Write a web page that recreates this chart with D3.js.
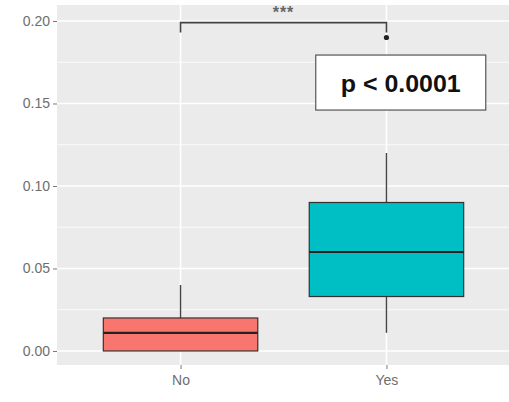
<!DOCTYPE html>
<html>
<head>
<meta charset="utf-8">
<script src="https://cdn.jsdelivr.net/npm/d3@7/dist/d3.min.js"></script>
<style>
  html, body { margin: 0; padding: 0; background: #fff; }
  svg { display: block; }
</style>
</head>
<body>
<svg id="chart" width="509" height="402"></svg>
<script>
// Box-plot summary per group
const groups      = ["No", "Yes"];
const fills       = ["#F8766D", "#00BFC4"];
const whiskerLow  = [0.000, 0.011];
const q1          = [0.000, 0.033];
const medians     = [0.011, 0.060];
const q3          = [0.020, 0.090];
const whiskerHigh = [0.040, 0.120];
const outliers    = [[], [0.190]];

// Axis ticks
const majorTicks = [0.00, 0.05, 0.10, 0.15, 0.20];
const minorTicks = [0.025, 0.075, 0.125, 0.175];
const tickLabels = ["0.00", "0.05", "0.10", "0.15", "0.20"];

// Comparison annotation
const bracketY   = 0.199;
const bracketTip = 0.193;
const sigLabel   = "***";
const pLabel     = "p < 0.0001";

const svg = d3.select("#chart");
const panel = { left: 57, right: 510, top: 5, bottom: 365 };

const x = d3.scalePoint().domain(groups).range([panel.left, panel.right]).padding(0.6);
const y = d3.scaleLinear().domain([-0.0085, 0.2097]).range([panel.bottom, panel.top]);
const boxW = x.step() * 0.75;

// panel background
svg.append("rect")
  .attr("x", panel.left).attr("y", panel.top)
  .attr("width", panel.right - panel.left).attr("height", panel.bottom - panel.top)
  .attr("fill", "#EBEBEB");

// grid lines
const grid = svg.append("g");
grid.selectAll(".minor").data(minorTicks).join("line")
  .attr("x1", panel.left).attr("x2", panel.right)
  .attr("y1", d => y(d)).attr("y2", d => y(d))
  .attr("stroke", "#fff").attr("stroke-width", 0.8);
grid.selectAll(".major").data(majorTicks).join("line")
  .attr("x1", panel.left).attr("x2", panel.right)
  .attr("y1", d => y(d)).attr("y2", d => y(d))
  .attr("stroke", "#fff").attr("stroke-width", 1.6);
grid.selectAll(".vmajor").data(groups).join("line")
  .attr("x1", d => x(d)).attr("x2", d => x(d))
  .attr("y1", panel.top).attr("y2", panel.bottom)
  .attr("stroke", "#fff").attr("stroke-width", 1.6);

// y axis
const yAxis = d3.axisLeft(y).tickValues(majorTicks)
  .tickFormat((d, i) => tickLabels[i]).tickSize(4).tickPadding(3);
const gy = svg.append("g").attr("transform", `translate(${panel.left},0)`).call(yAxis);
gy.select(".domain").remove();
gy.selectAll(".tick line").attr("stroke", "#777").attr("stroke-width", 1);
gy.selectAll(".tick text")
  .attr("fill", "#6e6e6e")
  .style("font-family", "'Liberation Sans', Arial, sans-serif")
  .style("font-size", "14px");

// x axis
const xAxis = d3.axisBottom(x).tickSize(4).tickPadding(6);
const gx = svg.append("g").attr("transform", `translate(0,${panel.bottom})`).call(xAxis);
gx.select(".domain").remove();
gx.selectAll(".tick line").attr("stroke", "#777").attr("stroke-width", 1);
gx.selectAll(".tick text")
  .attr("fill", "#6e6e6e")
  .style("font-family", "'Liberation Sans', Arial, sans-serif")
  .style("font-size", "14px");

// boxes
const idx = d3.range(groups.length);
const boxes = svg.append("g");
const stroke = "#333";

boxes.selectAll(".whisk-up").data(idx).join("line")
  .attr("x1", i => x(groups[i])).attr("x2", i => x(groups[i]))
  .attr("y1", i => y(q3[i])).attr("y2", i => y(whiskerHigh[i]))
  .attr("stroke", "#444").attr("stroke-width", 1.4);
boxes.selectAll(".whisk-lo").data(idx).join("line")
  .attr("x1", i => x(groups[i])).attr("x2", i => x(groups[i]))
  .attr("y1", i => y(q1[i])).attr("y2", i => y(whiskerLow[i]))
  .attr("stroke", "#444").attr("stroke-width", 1.4);
boxes.selectAll(".box").data(idx).join("rect")
  .attr("x", i => x(groups[i]) - boxW / 2)
  .attr("width", boxW)
  .attr("y", i => y(q3[i]))
  .attr("height", i => y(q1[i]) - y(q3[i]))
  .attr("fill", (i) => fills[i])
  .attr("stroke", stroke).attr("stroke-width", 1.2);
boxes.selectAll(".median").data(idx).join("line")
  .attr("x1", i => x(groups[i]) - boxW / 2).attr("x2", i => x(groups[i]) + boxW / 2)
  .attr("y1", i => y(medians[i])).attr("y2", i => y(medians[i]))
  .attr("stroke", "#222").attr("stroke-width", 2.2);
boxes.selectAll(".outliers").data(idx).join("g")
  .selectAll("circle").data(i => outliers[i].map(v => ({ g: groups[i], v })))
  .join("circle")
  .attr("cx", d => x(d.g)).attr("cy", d => y(d.v)).attr("r", 2.6)
  .attr("fill", "#222");

// significance bracket
const br = svg.append("g");
br.append("path")
  .attr("d", `M${x(groups[0])},${y(bracketTip)}V${y(bracketY)}H${x(groups[1])}V${y(bracketTip)}`)
  .attr("fill", "none").attr("stroke", "#444").attr("stroke-width", 1.6);
br.append("text")
  .attr("x", (x(groups[0]) + x(groups[1])) / 2)
  .attr("y", y(bracketY) - 5)
  .attr("text-anchor", "middle")
  .attr("fill", "#666")
  .style("font-family", "'Liberation Sans', Arial, sans-serif")
  .style("font-size", "16px")
  .style("font-weight", "bold")
  .style("letter-spacing", "1px")
  .text(sigLabel);

// p-value label box
const lbl = svg.append("g");
const lx = x(groups[1]) + 14.3, ly = y(0.1627);
lbl.append("rect")
  .attr("x", lx - 85).attr("y", ly - 27.5)
  .attr("width", 170).attr("height", 55)
  .attr("fill", "#fff").attr("stroke", "#555").attr("stroke-width", 1.2);
lbl.append("text")
  .attr("x", lx).attr("y", ly + 9)
  .attr("text-anchor", "middle")
  .attr("fill", "#111")
  .attr("textLength", 120).attr("lengthAdjust", "spacingAndGlyphs")
  .style("font-family", "'Liberation Sans', Arial, sans-serif")
  .style("font-size", "24px")
  .style("font-weight", "bold")
  .text(pLabel);
</script>
</body>
</html>
